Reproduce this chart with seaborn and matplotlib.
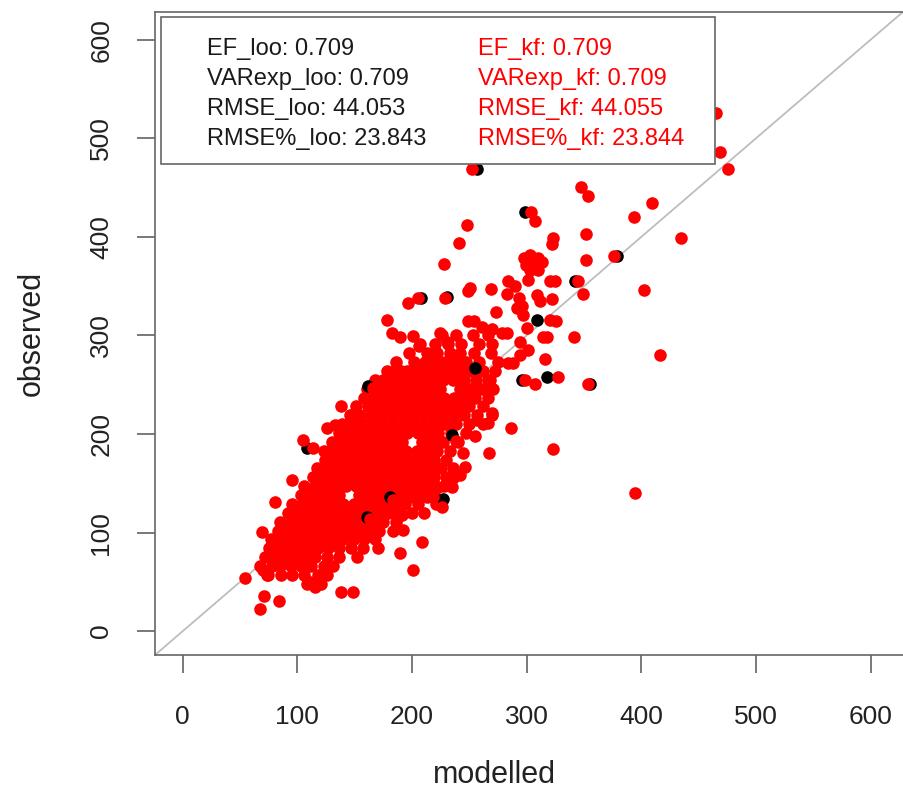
import matplotlib
matplotlib.use("Agg")
import matplotlib.pyplot as plt
import pandas as pd
import seaborn as sns
from matplotlib.patches import Rectangle

# isolated k-fold points: (modelled, observed)
kf_sparse = [
    (465.2, 525.6), (468.6, 486.1), (475.6, 468.9),
    (347.4, 450.6), (353.6, 441.4), (409.4, 434.4), (393.7, 420.2), (434.6, 398.8),
    (351.8, 402.9), (323.0, 398.8), (322.1, 392.7),
    (252.4, 468.9), (303.8, 425.3), (307.3, 416.1), (248.0, 412.0), (241.0, 393.7), (228.0, 372.4),
    (297.7, 378.5), (302.9, 381.6), (309.9, 378.5), (299.5, 371.4), (306.4, 370.4),
    (313.4, 374.5), (302.9, 366.4), (309.9, 366.4),
    (351.8, 376.5), (376.2, 380.6),
    (283.8, 355.2), (289.9, 350.1), (301.2, 356.2), (320.4, 355.2), (324.7, 355.2), (344.8, 355.2),
    (349.1, 342.0), (402.3, 346.1),
    (248.9, 345.1), (250.6, 348.1), (268.9, 347.1), (282.9, 342.0),
    (228.8, 337.9), (205.5, 337.9), (196.5, 332.8),
    (293.3, 337.9), (296.0, 329.8), (309.0, 341.0), (311.6, 334.9), (322.1, 336.9),
    (273.3, 323.7), (291.6, 327.8), (296.9, 320.7), (178.2, 315.6),
    (248.9, 314.7), (254.1, 314.7), (320.4, 315.6), (325.6, 314.7), (300.4, 307.5),
    (182.6, 302.4), (189.5, 298.3), (200.9, 299.3), (206.2, 289.2), (224.4, 302.4), (230.6, 293.3),
    (261.1, 308.5), (269.8, 306.5), (278.5, 302.4), (282.9, 302.4),
    (294.2, 293.3), (314.2, 298.3), (317.8, 298.3), (341.3, 298.3),
    (301.2, 285.2), (294.2, 280.1), (316.1, 276.1), (283.8, 272.0), (288.1, 272.0),
    (298.5, 254.8), (307.3, 250.7), (327.4, 257.8), (353.6, 250.7), (416.3, 280.1),
    (286.4, 206.1), (267.2, 180.8), (323.0, 184.7), (394.5, 140.1), (255.0, 198.0), (244.5, 180.8),
    (184.3, 263.8), (166.0, 246.7), (178.2, 252.7), (189.5, 253.7), (138.1, 228.3),
    (125.9, 206.1), (132.8, 209.0), (145.9, 219.2), (152.0, 211.1),
    (105.0, 193.8), (113.6, 185.8), (266.3, 254.8), (238.5, 193.0), (246.3, 166.5),
    (54.4, 53.9), (71.0, 35.6), (84.1, 30.5), (67.5, 22.4), (69.2, 100.5), (80.5, 131.0), (95.3, 153.3),
    (138.1, 39.6), (148.5, 39.6), (115.4, 44.7), (111.0, 49.8), (70.1, 62.0), (73.6, 56.9), (76.2, 79.2),
    (200.9, 62.0), (189.5, 79.2), (208.8, 90.4), (198.3, 136.1), (183.5, 133.0), (163.5, 113.5),
    (226.2, 126.0), (218.3, 136.1), (213.0, 136.1), (234.9, 146.2), (235.8, 155.4), (241.8, 158.5),
    (217.5, 148.2), (222.7, 146.2), (192.2, 102.6), (191.4, 117.8),
    (266.3, 211.1), (269.8, 221.3), (256.7, 214.1),
]

# dense cloud, one observed level per row with the modelled values on it
kf_core_rows = [
    (48, [108, 121]),
    (57, [74, 86, 95, 106, 118, 126]),
    (66, [67, 78, 85, 94, 103, 112, 123, 131]),
    (75, [72, 79, 88, 97, 106, 115, 126, 136, 152]),
    (84, [75, 82, 91, 100, 109, 118, 127, 136, 147, 157, 170]),
    (93, [77, 86, 95, 104, 113, 122, 131, 140, 149, 158, 168]),
    (102, [83, 90, 99, 108, 117, 126, 135, 144, 153, 162, 171, 183]),
    (111, [85, 94, 103, 112, 121, 130, 139, 148, 157, 166, 175, 186]),
    (120, [92, 98, 107, 116, 125, 134, 143, 152, 161, 170, 179, 188, 200, 210]),
    (129, [95, 104, 113, 122, 131, 140, 149, 158, 167, 176, 185, 194, 205, 221]),
    (138, [103, 109, 118, 127, 136, 154, 163, 172, 181, 190, 199, 208, 219]),
    (147, [106, 115, 124, 133, 142, 151, 160, 169, 178, 187, 196, 205, 214, 228]),
    (156, [114, 120, 129, 138, 147, 156, 165, 174, 183, 192, 201, 210, 219, 230]),
    (165, [117, 126, 135, 144, 153, 162, 171, 180, 189, 198, 207, 216, 225, 236]),
    (174, [124, 129, 138, 147, 156, 165, 174, 183, 192, 201, 210, 219, 230]),
    (183, [123, 132, 141, 150, 159, 168, 177, 186, 195, 204, 213, 222, 233]),
    (192, [130, 137, 146, 155, 164, 173, 182, 191, 209, 218, 227, 240]),
    (201, [136, 142, 151, 160, 169, 178, 187, 196, 205, 214, 223, 234, 247]),
    (210, [139, 148, 157, 166, 175, 184, 193, 202, 211, 220, 229, 238, 250, 262]),
    (219, [148, 155, 164, 173, 182, 191, 200, 209, 218, 227, 236, 245, 257, 270]),
    (228, [151, 162, 169, 178, 187, 196, 205, 214, 223, 232, 241, 250, 262]),
    (237, [158, 165, 174, 183, 192, 201, 210, 219, 228, 237, 246, 255, 266]),
    (246, [161, 170, 179, 188, 197, 206, 215, 224, 242, 251, 261, 271]),
    (255, [168, 175, 182, 191, 200, 209, 218, 227, 236, 245, 256, 268]),
    (264, [178, 190, 196, 205, 214, 223, 232, 241, 250, 262, 272]),
    (273, [186, 202, 211, 220, 229, 238, 247, 258, 275]),
    (282, [197, 213, 222, 233, 242, 254, 269]),
    (291, [207, 220, 231, 243, 258, 270]),
    (300, [226, 238, 253, 266]),
]

# leave-one-out points that show from under the red ones
loo_visible = [
    (256.7, 468.9), (298.6, 425.3), (378.8, 380.6), (342.2, 355.2), (230.6, 338.9), (208.0, 337.9),
    (309.0, 315.6), (161.6, 248.6), (255.0, 266.9), (108.1, 185.8), (234.9, 199.0), (295.9, 254.8),
    (317.8, 257.8), (227.1, 134.1), (180.8, 136.1), (160.8, 115.8), (355.0, 250.7),
]

loo_labels = ["EF_loo: 0.709", "VARexp_loo: 0.709", "RMSE_loo: 44.053", "RMSE%_loo: 23.843"]
kf_labels = ["EF_kf: 0.709", "VARexp_kf: 0.709", "RMSE_kf: 44.055", "RMSE%_kf: 23.844"]
ticks = [0, 100, 200, 300, 400, 500, 600]

core = pd.DataFrame(
    [(m, obs) for obs, row in kf_core_rows for m in row], columns=["modelled", "observed"]
)
sparse = pd.DataFrame(kf_sparse, columns=["modelled", "observed"])
loo = pd.DataFrame(loo_visible, columns=["modelled", "observed"])

sns.set_style("white")
plt.rcParams["font.family"] = ["Liberation Sans", "DejaVu Sans"]

fig = plt.figure(figsize=(9.04, 7.90), dpi=100)
ax = fig.add_axes([155 / 904, 135 / 790, 749 / 904, 643 / 790])

ax.plot([-50, 700], [-50, 700], color="#bdbdbd", lw=1.3, zorder=1)
sns.scatterplot(data=core, x="modelled", y="observed", color="red", s=82, linewidth=0, ax=ax, zorder=2)
sns.scatterplot(data=loo, x="modelled", y="observed", color="black", s=82, linewidth=0, ax=ax, zorder=3)
sns.scatterplot(data=sparse, x="modelled", y="observed", color="red", s=82, linewidth=0, ax=ax, zorder=4)

ax.set_xlim(-24.2, 629.1)
ax.set_ylim(-24.2, 628.1)
ax.set_xticks(ticks)
ax.set_yticks(ticks)
ax.set_xlabel("")
ax.set_ylabel("")
ax.tick_params(bottom=True, left=True, direction="out", length=13, width=1.1,
               color="#555555", labelsize=19, labelcolor="#222222")
ax.tick_params(axis="x", pad=23)
ax.tick_params(axis="y", pad=17)
for lab in ax.get_yticklabels():
    lab.set_rotation(90)
    lab.set_va("center")

ax.spines["right"].set_visible(False)
for side in ["left", "bottom", "top"]:
    ax.spines[side].set_color("#666666")
    ax.spines[side].set_linewidth(1.2)

# stats box
ax.add_patch(Rectangle((0.008, 0.7636), 0.7397, 0.2286, transform=ax.transAxes,
                       facecolor="white", edgecolor="#666666", lw=1.2, zorder=5))
baselines = [0.9331, 0.8865, 0.8398, 0.7932]
for yb, left, right in zip(baselines, loo_labels, kf_labels):
    ax.text(0.0694, yb, left, transform=ax.transAxes, fontsize=17, color="#1a1a1a", va="baseline", zorder=6)
    ax.text(0.4312, yb, right, transform=ax.transAxes, fontsize=17, color="red", va="baseline", zorder=6)

fig.text(32 / 904, 1 - 333.5 / 790, "observed", rotation=90, ha="center", va="center",
         fontsize=22, color="#222222")
fig.text(494 / 904, 7 / 790, "modelled", ha="center", va="baseline", fontsize=22, color="#222222")

fig.savefig("out.png", dpi=100)
